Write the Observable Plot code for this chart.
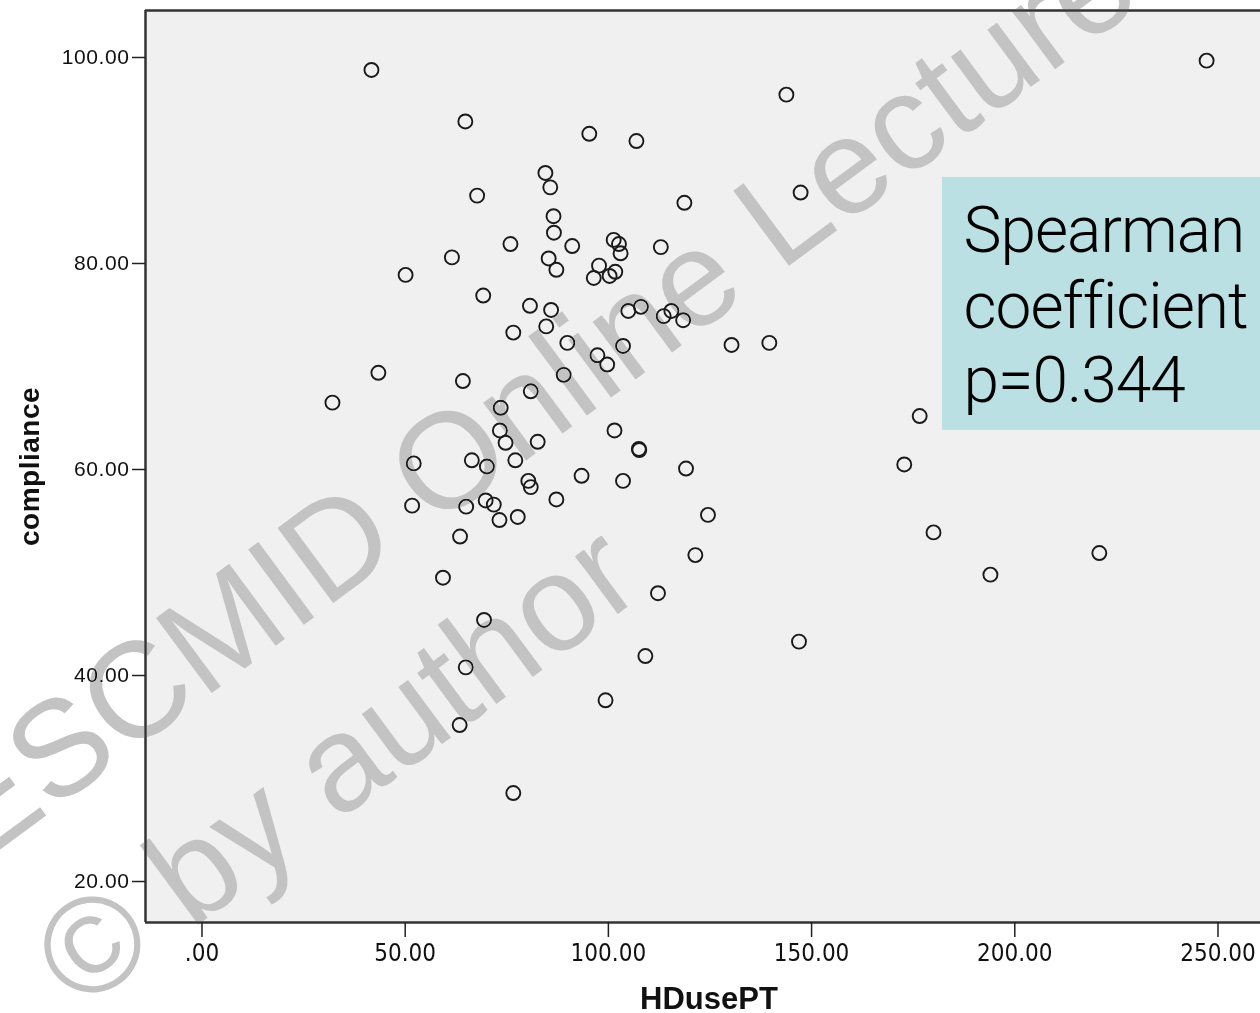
<!DOCTYPE html>
<html>
<head>
<meta charset="utf-8">
<script src="https://cdn.jsdelivr.net/npm/d3@7"></script>
<script src="https://cdn.jsdelivr.net/npm/@observablehq/plot@0.6"></script>
<style>
  html, body { margin: 0; padding: 0; background: #fff; overflow: hidden; }
  #wrap { position: relative; width: 1260px; height: 1013px; }
  #wrap svg { display: block; }
  .anno text { letter-spacing: -1px; }
  .ytitle text { letter-spacing: 0.5px; }
  g[aria-label="y-axis tick label"] text { letter-spacing: 0.6px; }
  #wm { position: absolute; left: 0; top: 0; pointer-events: none; mix-blend-mode: darken; }
</style>
</head>
<body>
<div id="wrap"></div>
<script>
// HDusePT (x) values
const hdusePT = [
  41.7, 64.8, 95.3, 106.9, 143.8, 247.2, 84.5, 85.7, 67.7, 118.7,
  147.3, 86.5, 86.6, 75.9, 91.1, 101.3, 102.6, 103.0, 112.9, 61.5,
  85.3, 87.2, 50.1, 97.7, 96.4, 100.3, 101.7, 69.2, 80.7, 85.9,
  84.7, 76.6, 104.9, 108.0, 113.6, 115.5, 118.4, 89.9, 103.6, 130.3,
  139.6, 97.3, 99.7, 43.4, 64.2, 89.0, 32.1, 80.9, 73.5, 176.6,
  73.3, 74.7, 82.6, 101.5, 107.5, 107.6, 52.1, 66.4, 70.1, 77.1,
  80.3, 80.9, 93.4, 103.6, 119.1, 172.8, 87.2, 51.7, 65.0, 69.8,
  71.8, 73.2, 77.7, 124.5, 180.0, 63.5, 121.4, 220.8, 194.0, 59.3,
  112.2, 69.4, 146.9, 109.1, 64.9, 99.3, 63.4, 76.6
];
// compliance (y) values
const compliance = [
  98.5, 93.5, 92.3, 91.6, 96.1, 99.4, 88.5, 87.1, 86.3, 85.6,
  86.6, 84.3, 82.7, 81.6, 81.4, 82.0, 81.6, 80.7, 81.3, 80.3,
  80.2, 79.1, 78.6, 79.5, 78.3, 78.5, 78.9, 76.6, 75.6, 75.2,
  73.6, 73.0, 75.1, 75.5, 74.6, 75.1, 74.2, 72.0, 71.7, 71.8,
  72.0, 70.8, 69.9, 69.1, 68.3, 68.9, 66.2, 67.3, 65.7, 64.9,
  63.5, 62.3, 62.4, 63.5, 61.7, 61.6, 60.3, 60.6, 60.0, 60.6,
  58.6, 58.0, 59.1, 58.6, 59.8, 60.2, 56.8, 56.2, 56.1, 56.7,
  56.3, 54.8, 55.1, 55.3, 53.6, 53.2, 51.4, 51.6, 49.5, 49.2,
  47.7, 45.1, 43.0, 41.6, 40.5, 37.3, 34.9, 28.3
];
const xTicks = [0, 50, 100, 150, 200, 250];
const yTicks = [20, 40, 60, 80, 100];
const xDomain = [-13.9, 260.46];
const yDomain = [15.73, 104.27];
const xTitle = "HDusePT";
const yTitle = "compliance";
// annotation box (data units) and its text lines
const annoBox = [{x1: 182.2, x2: 275, y1: 63.5, y2: 88.06}];
const annoLines = ["Spearman", "coefficient", "p=0.344"];
const annoLineY = [80.78, 73.4, 66.3];
const annoX = 187.4;
const watermark = ["ESCMID Online Lecture Library", "© by author"];

const points = hdusePT.map((x, i) => ({x, y: compliance[i]}));
const anno = annoLines.map((t, i) => ({t, x: annoX, y: annoLineY[i]}));
const fmt = d => d.toFixed(2).replace(/^0(?=\.)/, "");

const chart = Plot.plot({
  width: 1260,
  height: 1013,
  marginLeft: 145,
  marginRight: 0,
  marginTop: 10,
  marginBottom: 91,
  style: {background: "#ffffff", fontFamily: "'Liberation Sans', Arial, sans-serif", color: "#111"},
  x: {domain: xDomain},
  y: {domain: yDomain},
  marks: [
    Plot.frame({fill: "#f0f0f0", stroke: null}),
    Plot.rect(annoBox, {x1: "x1", x2: "x2", y1: "y1", y2: "y2", fill: "#bae0e4"}),
    Plot.text(anno, {x: "x", y: "y", text: "t", textAnchor: "start", lineAnchor: "bottom",
      fontSize: 64, fontWeight: 300, fontFamily: "Roboto, 'Open Sans', sans-serif", fill: "#000", className: "anno"}),
    Plot.dot(points, {x: "x", y: "y", r: 7, stroke: "#1a1a1a", strokeWidth: 1.9, fill: "none"}),
    Plot.ruleX([xDomain[0]], {stroke: "#333", strokeWidth: 2.5}),
    Plot.ruleY([yDomain[0], yDomain[1]], {stroke: "#333", strokeWidth: 2.5}),
    Plot.axisY(yTicks, {tickFormat: fmt, tickSize: 13, tickPadding: 3, fontSize: 21, dy: 3,
      stroke: "#222", strokeWidth: 1.5, fill: "#111", label: null}),
    Plot.axisX(xTicks, {tickFormat: fmt, tickSize: 15, tickPadding: 6, fontSize: 24,
      fontFamily: "'Liberation Sans Narrow', 'Arial Narrow', 'DejaVu Sans Condensed', sans-serif",
      stroke: "#222", strokeWidth: 1.5, fill: "#111", label: null}),
    Plot.text([xTitle], {frameAnchor: "bottom", dy: 86, dx: 6, lineAnchor: "bottom", fontSize: 31, fontWeight: "bold", fill: "#111"}),
    Plot.text([yTitle], {frameAnchor: "left", dx: -115, rotate: -90, textAnchor: "middle", fontSize: 28, fontWeight: "bold", fill: "#111", className: "ytitle"})
  ]
});
document.getElementById("wrap").appendChild(chart);

// watermark overlay (real text)
const wm = d3.select("#wrap").append("svg").attr("id", "wm").attr("width", 1260).attr("height", 1013);
const wmPos = [[-22, 866], [80, 1012]];
wm.selectAll("text").data(watermark).join("text")
  .attr("transform", (d, i) => `translate(${wmPos[i][0]},${wmPos[i][1]}) rotate(-36.5)`)
  .attr("font-family", "'Liberation Sans', Arial, sans-serif")
  .attr("font-size", 136)
  .attr("fill", "#c3c3c3")
  .text(d => d);
</script>
</body>
</html>
